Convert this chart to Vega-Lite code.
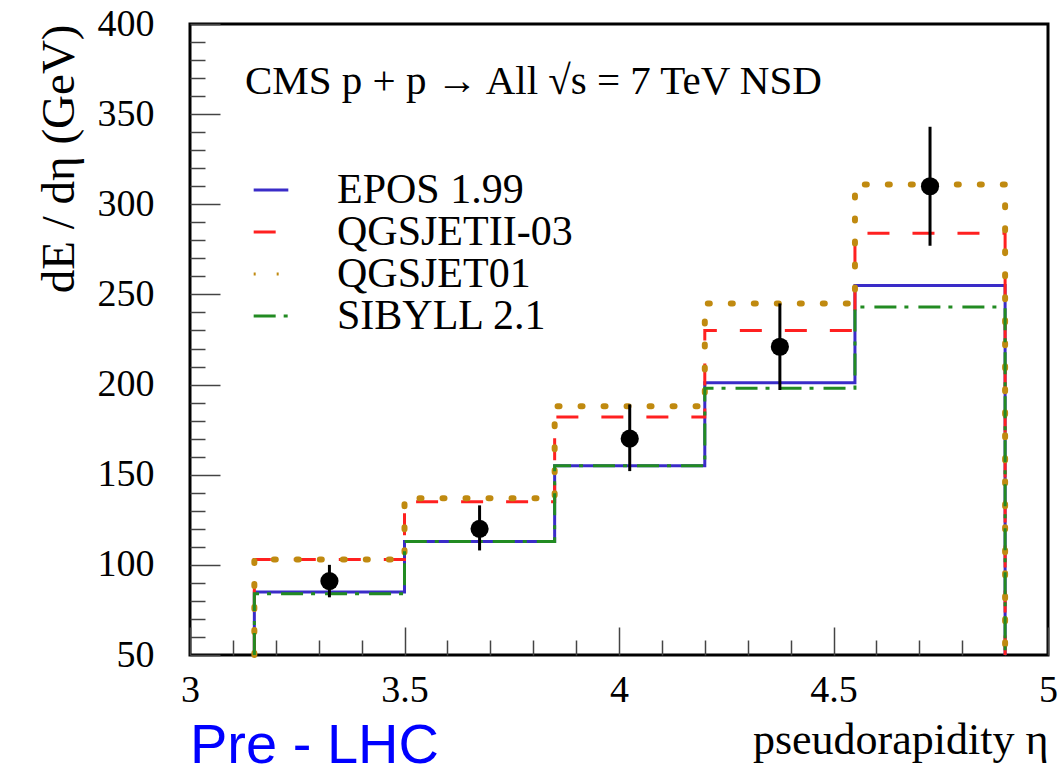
{
  "$schema": "https://vega.github.io/schema/vega-lite/v6.json",
  "width": 858,
  "height": 631,
  "autosize": {"type": "none"},
  "padding": {"left": 190, "top": 24, "right": 11, "bottom": 114},
  "background": "white",
  "config": {
    "font": "Liberation Serif",
    "view": {"stroke": "black", "strokeWidth": 3}
  },
  "title": {
    "text": "Pre - LHC",
    "orient": "bottom",
    "anchor": "start",
    "frame": "group",
    "font": "Liberation Sans",
    "fontSize": 56,
    "fontWeight": "normal",
    "color": "#0000ff",
    "offset": -43
  },
  "datasets": {
    "models": [
      {"series": "EPOS 1.99", "eta": 3.15, "v": 50},
      {"series": "EPOS 1.99", "eta": 3.15, "v": 85},
      {"series": "EPOS 1.99", "eta": 3.5, "v": 113},
      {"series": "EPOS 1.99", "eta": 3.85, "v": 155},
      {"series": "EPOS 1.99", "eta": 4.2, "v": 201},
      {"series": "EPOS 1.99", "eta": 4.55, "v": 255},
      {"series": "EPOS 1.99", "eta": 4.9, "v": 50},
      {"series": "QGSJETII-03", "eta": 3.15, "v": 50},
      {"series": "QGSJETII-03", "eta": 3.15, "v": 103},
      {"series": "QGSJETII-03", "eta": 3.5, "v": 135},
      {"series": "QGSJETII-03", "eta": 3.85, "v": 182},
      {"series": "QGSJETII-03", "eta": 4.2, "v": 230},
      {"series": "QGSJETII-03", "eta": 4.55, "v": 284},
      {"series": "QGSJETII-03", "eta": 4.9, "v": 50},
      {"series": "QGSJET01", "eta": 3.15, "v": 50},
      {"series": "QGSJET01", "eta": 3.15, "v": 103},
      {"series": "QGSJET01", "eta": 3.5, "v": 137},
      {"series": "QGSJET01", "eta": 3.85, "v": 188},
      {"series": "QGSJET01", "eta": 4.2, "v": 245},
      {"series": "QGSJET01", "eta": 4.55, "v": 311},
      {"series": "QGSJET01", "eta": 4.9, "v": 50},
      {"series": "SIBYLL 2.1", "eta": 3.15, "v": 50},
      {"series": "SIBYLL 2.1", "eta": 3.15, "v": 84},
      {"series": "SIBYLL 2.1", "eta": 3.5, "v": 113},
      {"series": "SIBYLL 2.1", "eta": 3.85, "v": 155},
      {"series": "SIBYLL 2.1", "eta": 4.2, "v": 198},
      {"series": "SIBYLL 2.1", "eta": 4.55, "v": 243},
      {"series": "SIBYLL 2.1", "eta": 4.9, "v": 50}
    ],
    "cms": [
      {"eta": 3.325, "v": 91, "lo": 82, "hi": 100},
      {"eta": 3.675, "v": 120, "lo": 108, "hi": 133},
      {"eta": 4.025, "v": 170, "lo": 152, "hi": 189},
      {"eta": 4.375, "v": 221, "lo": 197, "hi": 245},
      {"eta": 4.725, "v": 310, "lo": 277, "hi": 343}
    ],
    "labels": [
      {"eta": 3.128, "v": 361, "text": "CMS p + p → All √s = 7 TeV NSD"}
    ]
  },
  "encoding": {
    "x": {
      "field": "eta",
      "type": "quantitative",
      "scale": {"domain": [3, 5], "nice": false, "zero": false},
      "axis": {
        "title": "pseudorapidity η",
        "titleAnchor": "end",
        "titleFontSize": 44,
        "titleFontWeight": "normal",
        "titleColor": "black",
        "titlePadding": -4,
        "values": [3, 3.1, 3.2, 3.3, 3.4, 3.5, 3.6, 3.7, 3.8, 3.9, 4, 4.1, 4.2, 4.3, 4.4, 4.5, 4.6, 4.7, 4.8, 4.9, 5],
        "labelExpr": "abs(datum.value*2 - round(datum.value*2)) < 0.001 ? toString(round(datum.value*10)/10) : ''",
        "labelFontSize": 38,
        "labelColor": "black",
        "labelFlush": false,
        "labelOverlap": false,
        "labelPadding": 44,
        "domain": false,
        "grid": false,
        "tickColor": "#444",
        "tickWidth": 1.5,
        "tickSize": {"condition": {"test": "abs(datum.value*2 - round(datum.value*2)) < 0.001", "value": -28}, "value": -15}
      }
    },
    "y": {
      "field": "v",
      "type": "quantitative",
      "scale": {"domain": [50, 400], "nice": false, "zero": false},
      "axis": {
        "title": "dE / dη (GeV)",
        "titleAnchor": "end",
        "titleFontSize": 47,
        "titleFontWeight": "normal",
        "titleColor": "black",
        "titlePadding": 14,
        "values": [50, 60, 70, 80, 90, 100, 110, 120, 130, 140, 150, 160, 170, 180, 190, 200, 210, 220, 230, 240, 250, 260, 270, 280, 290, 300, 310, 320, 330, 340, 350, 360, 370, 380, 390, 400],
        "labelExpr": "datum.value % 50 === 0 ? datum.label : ''",
        "labelFontSize": 38,
        "labelColor": "black",
        "labelFlush": false,
        "labelOverlap": false,
        "labelPadding": 66,
        "domain": false,
        "grid": false,
        "tickColor": "#444",
        "tickWidth": 1.5,
        "tickSize": {"condition": {"test": "datum.value % 50 === 0", "value": -30}, "value": -15}
      }
    }
  },
  "layer": [
    {
      "data": {"name": "models"},
      "transform": [{"filter": "datum.series === 'EPOS 1.99'"}],
      "mark": {"type": "line", "interpolate": "step-after", "strokeWidth": 3},
      "encoding": {
        "color": {"field": "series", "type": "nominal", "scale": {"domain": ["EPOS 1.99", "QGSJETII-03", "QGSJET01", "SIBYLL 2.1"], "range": ["#3a2cc8", "#ff2020", "#c08a10", "#228b22"]}, "legend": {"title": null, "orient": "none", "legendX": 60, "legendY": 145, "symbolType": "stroke", "symbolSize": 1200, "symbolStrokeWidth": 3, "labelFontSize": 42, "labelFont": "Liberation Serif", "labelColor": "black", "labelOffset": 45, "rowPadding": -9, "labelLimit": 500}},
        "strokeDash": {"field": "series", "type": "nominal", "scale": {"domain": ["EPOS 1.99", "QGSJETII-03", "QGSJET01", "SIBYLL 2.1"], "range": [[1, 0], [22, 23], [2, 21], [22, 8, 4, 10]]}, "legend": {"title": null}}
      }
    },
    {
      "data": {"name": "models"},
      "transform": [{"filter": "datum.series === 'QGSJETII-03'"}],
      "mark": {"type": "line", "interpolate": "step-after", "strokeWidth": 3},
      "encoding": {
        "color": {"field": "series", "type": "nominal"},
        "strokeDash": {"field": "series", "type": "nominal"}
      }
    },
    {
      "data": {"name": "models"},
      "transform": [{"filter": "datum.series === 'QGSJET01'"}],
      "mark": {"type": "line", "interpolate": "step-after", "strokeWidth": 6, "strokeCap": "round"},
      "encoding": {
        "color": {"field": "series", "type": "nominal"},
        "strokeDash": {"field": "series", "type": "nominal"}
      }
    },
    {
      "data": {"name": "models"},
      "transform": [{"filter": "datum.series === 'SIBYLL 2.1'"}],
      "mark": {"type": "line", "interpolate": "step-after", "strokeWidth": 3},
      "encoding": {
        "color": {"field": "series", "type": "nominal"},
        "strokeDash": {"field": "series", "type": "nominal"}
      }
    },
    {
      "data": {"name": "cms"},
      "mark": {"type": "rule", "color": "black", "strokeWidth": 3},
      "encoding": {
        "y": {"field": "lo", "type": "quantitative"},
        "y2": {"field": "hi"}
      }
    },
    {
      "data": {"name": "cms"},
      "mark": {"type": "point", "filled": true, "color": "black", "opacity": 1, "size": 330, "shape": "circle"},
      "encoding": {}
    },
    {
      "data": {"name": "labels"},
      "mark": {"type": "text", "align": "left", "baseline": "alphabetic", "fontSize": 41, "font": "Liberation Serif", "color": "black"},
      "encoding": {
        "text": {"field": "text", "type": "nominal"}
      }
    }
  ]
}
